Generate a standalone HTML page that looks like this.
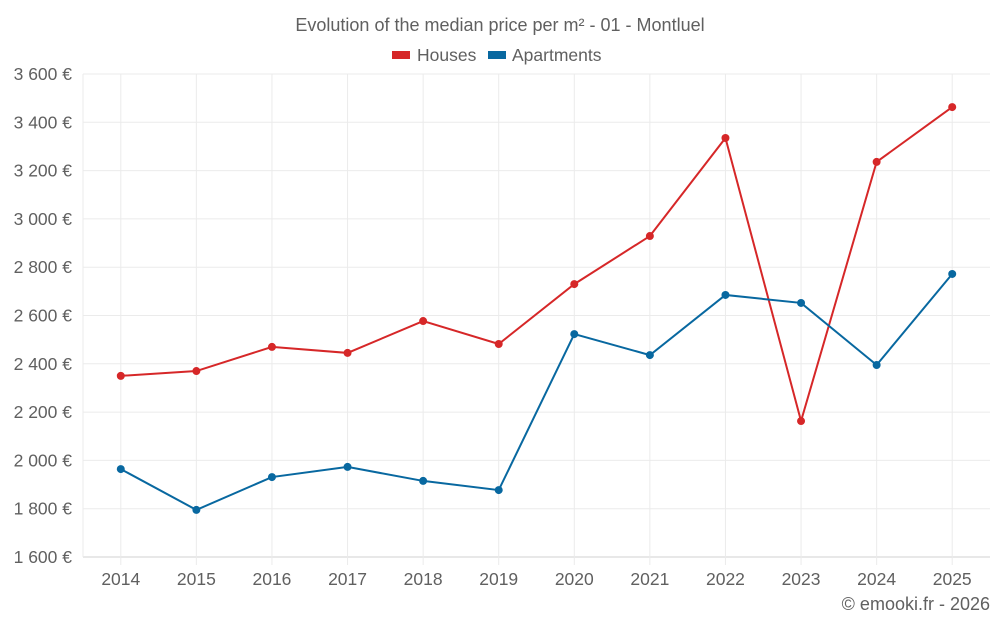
<!DOCTYPE html>
<html><head><meta charset="utf-8"><style>
body{margin:0;background:#fff;font-family:"Liberation Sans",sans-serif;}
svg{display:block}
text{font-family:"Liberation Sans",sans-serif;fill:#606060}
</style></head><body>
<svg id="c" width="1000" height="625">
<text x="500" y="31" text-anchor="middle" font-size="18">Evolution of the median price per m² - 01 - Montluel</text>
<g>
<g><rect x="392" y="51" width="18" height="8" fill="#d62728"/><text x="417" y="61" font-size="17.5">Houses</text></g>
<g><rect x="488" y="51" width="18" height="8" fill="#0868a0"/><text x="512" y="61" font-size="17.5">Apartments</text></g>
</g>
<g id="grid"></g><g id="axes"></g><g id="series"></g>
<text x="990" y="610" text-anchor="end" font-size="18">© emooki.fr - 2026</text>
</svg>
<script>
const years=["2014","2015","2016","2017","2018","2019","2020","2021","2022","2023","2024","2025"];
const houses=[2350,2370,2470,2445,2577,2482,2730,2929,3335,2163,3236,3463];
const apartments=[1964,1795,1931,1973,1915,1877,2523,2436,2685,2652,2395,2772];
const yTicks=[1600,1800,2000,2200,2400,2600,2800,3000,3200,3400,3600];
const L=83,R=990,T=74,B=557,yMin=1600,yMax=3600;
const NS="http://www.w3.org/2000/svg";
function y(v){return B-(v-yMin)/(yMax-yMin)*(B-T);}
function x(i){const w=(R-L)/years.length;return L+w*(i+0.5);}
function mk(t,a,p){const e=document.createElementNS(NS,t);for(const k in a)e.setAttribute(k,a[k]);p.appendChild(e);return e;}
const grid=document.getElementById('grid'),axes=document.getElementById('axes'),ser=document.getElementById('series');
function fmt(v){const s=String(v);return s.slice(0,s.length-3)+" "+s.slice(-3)+" €";}
yTicks.forEach(v=>{
 const l=mk('line',{x1:L,x2:R,y1:y(v),y2:y(v),stroke:v===yMin?'#d0d0d0':'#ebebeb'},grid);
 
 
 const t=mk('text',{x:72,y:y(v)+6,'text-anchor':'end','font-size':17.5},axes);
 t.textContent=fmt(v);
 
 
});
const ax=mk('line',{x1:L,x2:L,y1:T,y2:B,stroke:'#ebebeb'},grid);


years.forEach((yr,i)=>{
 const l=mk('line',{x1:x(i),x2:x(i),y1:T,y2:565,stroke:'#ebebeb'},grid);
 
 
 const t=mk('text',{x:x(i),y:585,'text-anchor':'middle','font-size':17.5},axes);
 t.textContent=yr;
 
 
});
function draw(data,color,name){
 const p=mk('polyline',{points:data.map((v,i)=>x(i)+","+y(v)).join(" "),fill:'none',stroke:color,'stroke-width':2},ser);
 
 
 data.forEach((v,i)=>{
  const c=mk('circle',{cx:x(i),cy:y(v),r:4,fill:color},ser);
  
  
 });
}
draw(houses,'#d62728','houses');
draw(apartments,'#0868a0','apartments');
</script>
</body></html>
